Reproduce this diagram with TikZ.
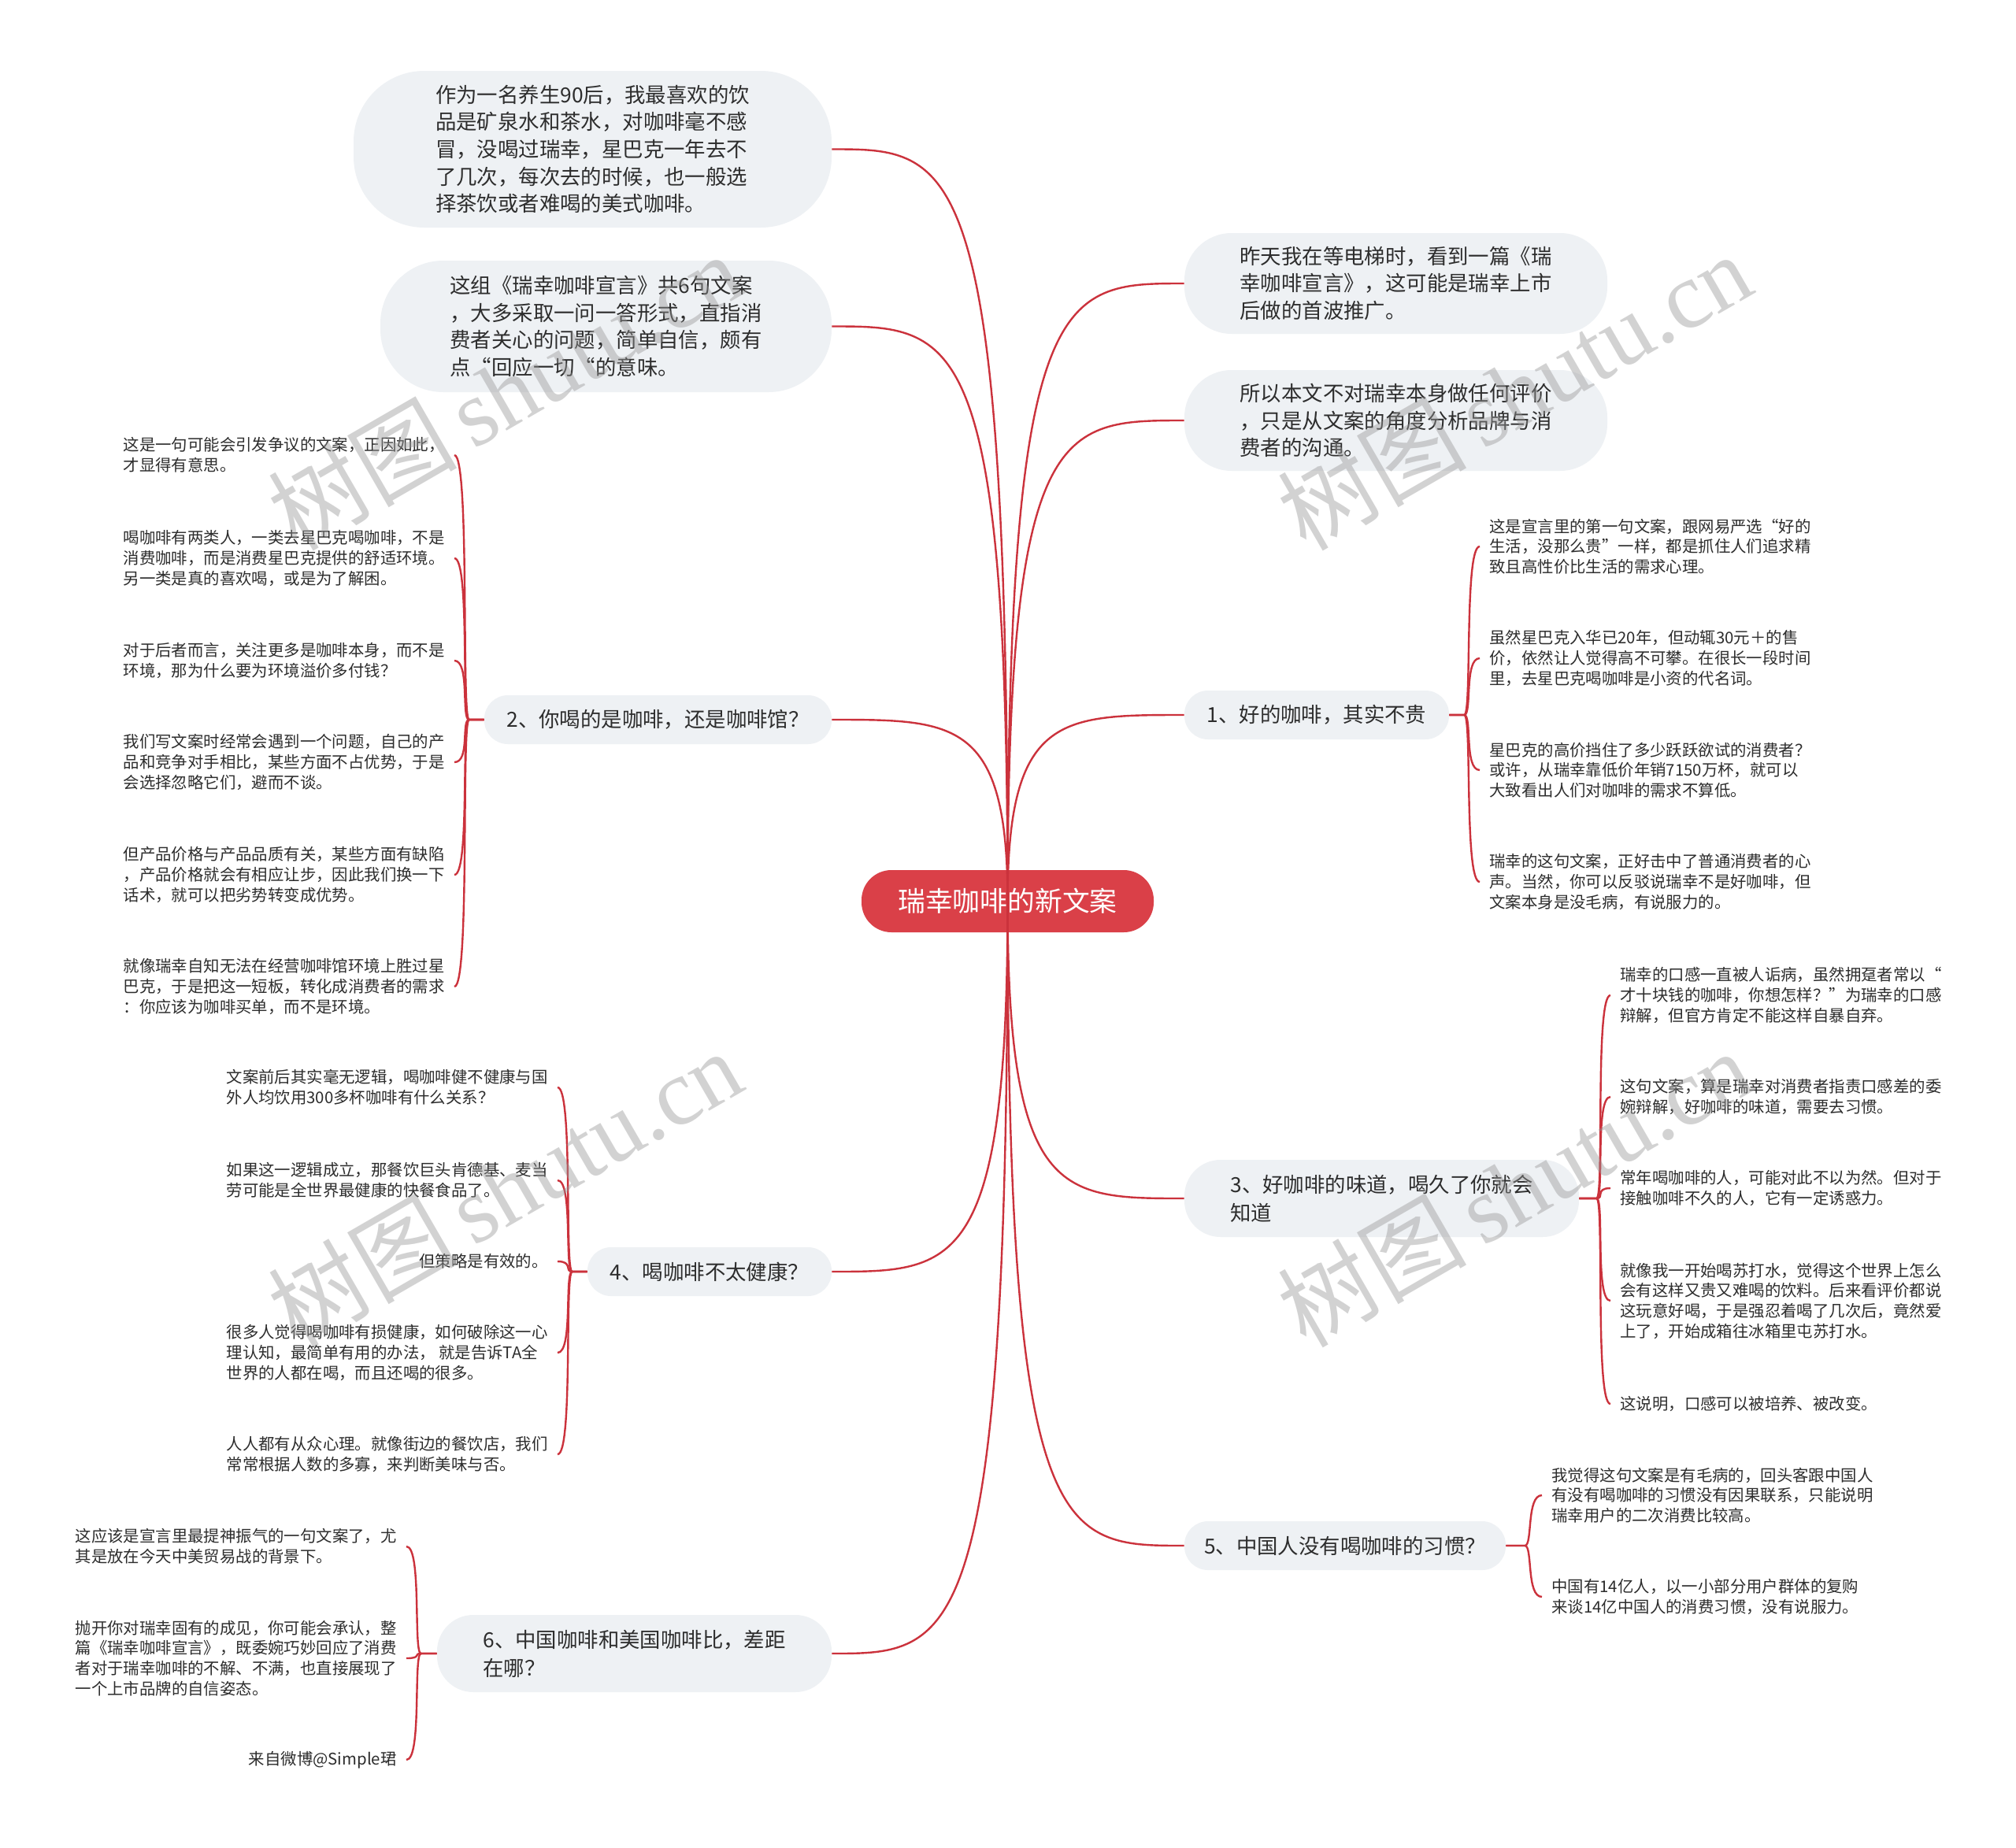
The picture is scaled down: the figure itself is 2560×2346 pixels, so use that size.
\documentclass[tikz,border=0pt]{standalone}
\usepackage{fontspec}
\setmainfont{Noto Sans CJK SC}
\newfontfamily\wmfont{Liberation Serif}
\usetikzlibrary{calc}
\definecolor{linered}{RGB}{203,50,60}
\definecolor{rootred}{RGB}{218,64,72}
\definecolor{bubblefill}{RGB}{238,241,244}
\definecolor{txt}{RGB}{45,45,45}
\definecolor{wmgray}{RGB}{150,150,150}
\begin{document}
\begin{tikzpicture}[x=0.5pt,y=-0.5pt,
  bubble/.style={fill=bubblefill, draw=none, align=left, text=txt, inner sep=0pt,
    font=\fontsize{13.2pt}{17.3pt}\selectfont},
  branch/.style={bubble, minimum height=31pt, rounded corners=15pt},
  branchtwo/.style={bubble, minimum height=49pt, rounded corners=23pt, font=\fontsize{13.2pt}{18pt}\selectfont},
  leaf/.style={align=left, text=txt, inner xsep=6pt, inner ysep=0pt,
    font=\fontsize{10.2pt}{12.85pt}\selectfont},
  rootbox/.style={fill=rootred, text=white, minimum width=185.5pt, minimum height=39.5pt,
    rounded corners=19pt, inner sep=0pt, font=\fontsize{17.4pt}{20pt}\selectfont},
  conn/.style={draw=linered, line width=1.2pt},
  rcurl/.style={out=0,in=180,out distance=5pt,in distance=10pt},
  lcurl/.style={out=180,in=0,out distance=5pt,in distance=10pt},
  wmark/.style={anchor=base west, rotate=30, text=wmgray, opacity=0.42, inner sep=0pt,
    font=\fontsize{60pt}{60pt}\selectfont}
]
\useasboundingbox (0,0) rectangle (2560,2346);
\fill[white] (0,0) rectangle (2560,2346);
\clip (0,0) rectangle (2560,2346);

% top bubbles
\node[bubble, minimum width=303.5pt, minimum height=99.5pt, rounded corners=45pt] (A) at (752.5,189.5)
 {作为一名养生90后，我最喜欢的饮\\品是矿泉水和茶水，对咖啡毫不感\\冒，没喝过瑞幸，星巴克一年去不\\了几次，每次去的时候，也一般选\\择茶饮或者难喝的美式咖啡。};
\node[bubble, minimum width=286.5pt, minimum height=83.5pt, rounded corners=40pt] (B) at (769.5,414.5)
 {这组《瑞幸咖啡宣言》共6句文案\\，大多采取一问一答形式，直指消\\费者关心的问题，简单自信，颇有\\点“回应一切“的意味。};
\node[bubble, minimum width=268.5pt, minimum height=64pt, rounded corners=30pt] (C) at (1772.5,360)
 {昨天我在等电梯时，看到一篇《瑞\\幸咖啡宣言》，这可能是瑞幸上市\\后做的首波推广。};
\node[bubble, minimum width=268.5pt, minimum height=64pt, rounded corners=30pt] (D) at (1772.5,534)
 {所以本文不对瑞幸本身做任何评价\\，只是从文案的角度分析品牌与消\\费者的沟通。};

% branches
\node[branch, minimum width=168pt] (b1) at (1672,908) {1、好的咖啡，其实不贵};
\node[branch, minimum width=220.5pt] (b2) at (835.5,914) {2、你喝的是咖啡，还是咖啡馆？};
\node[branchtwo, minimum width=250.5pt] (b3) at (1754.5,1522) {3、好咖啡的味道，喝久了你就会\\知道};
\node[branch, minimum width=155pt] (b4) at (901,1615) {4、喝咖啡不太健康？};
\node[branch, minimum width=204pt] (b5) at (1708,1963) {5、中国人没有喝咖啡的习惯？};
\node[branchtwo, minimum width=250.5pt] (b6) at (805.5,2100) {6、中国咖啡和美国咖啡比，差距\\在哪？};

% leaves of branch 1
\node[leaf, anchor=west] (l1a) at (1879,694) {这是宣言里的第一句文案，跟网易严选“好的\\生活，没那么贵”一样，都是抓住人们追求精\\致且高性价比生活的需求心理。};
\node[leaf, anchor=west] (l1b) at (1879,836) {虽然星巴克入华已20年，但动辄30元＋的售\\价，依然让人觉得高不可攀。在很长一段时间\\里，去星巴克喝咖啡是小资的代名词。};
\node[leaf, anchor=west] (l1c) at (1879,978) {星巴克的高价挡住了多少跃跃欲试的消费者？\\或许，从瑞幸靠低价年销7150万杯，就可以\\大致看出人们对咖啡的需求不算低。};
\node[leaf, anchor=west] (l1d) at (1879,1120) {瑞幸的这句文案，正好击中了普通消费者的心\\声。当然，你可以反驳说瑞幸不是好咖啡，但\\文案本身是没毛病，有说服力的。};

% leaves of branch 2
\node[leaf, anchor=east] (l2a) at (577,578) {这是一句可能会引发争议的文案，正因如此，\\才显得有意思。};
\node[leaf, anchor=east] (l2b) at (577,709) {喝咖啡有两类人，一类去星巴克喝咖啡，不是\\消费咖啡，而是消费星巴克提供的舒适环境。\\另一类是真的喜欢喝，或是为了解困。};
\node[leaf, anchor=east] (l2c) at (577,839) {对于后者而言，关注更多是咖啡本身，而不是\\环境，那为什么要为环境溢价多付钱？};
\node[leaf, anchor=east] (l2d) at (577,968) {我们写文案时经常会遇到一个问题，自己的产\\品和竞争对手相比，某些方面不占优势，于是\\会选择忽略它们，避而不谈。};
\node[leaf, anchor=east] (l2e) at (577,1111) {但产品价格与产品品质有关，某些方面有缺陷\\，产品价格就会有相应让步，因此我们换一下\\话术，就可以把劣势转变成优势。};
\node[leaf, anchor=east] (l2f) at (577,1253) {就像瑞幸自知无法在经营咖啡馆环境上胜过星\\巴克，于是把这一短板，转化成消费者的需求\\：你应该为咖啡买单，而不是环境。};

% leaves of branch 3
\node[leaf, anchor=west] (l3a) at (2045,1264) {瑞幸的口感一直被人诟病，虽然拥趸者常以“\\才十块钱的咖啡，你想怎样？”为瑞幸的口感\\辩解，但官方肯定不能这样自暴自弃。};
\node[leaf, anchor=west] (l3b) at (2045,1393) {这句文案，算是瑞幸对消费者指责口感差的委\\婉辩解，好咖啡的味道，需要去习惯。};
\node[leaf, anchor=west] (l3c) at (2045,1509) {常年喝咖啡的人，可能对此不以为然。但对于\\接触咖啡不久的人，它有一定诱惑力。};
\node[leaf, anchor=west] (l3d) at (2045,1652) {就像我一开始喝苏打水，觉得这个世界上怎么\\会有这样又贵又难喝的饮料。后来看评价都说\\这玩意好喝，于是强忍着喝了几次后，竟然爱\\上了，开始成箱往冰箱里屯苏打水。};
\node[leaf, anchor=west] (l3e) at (2045,1783) {这说明，口感可以被培养、被改变。};

% leaves of branch 4
\node[leaf, anchor=east] (l4a) at (708,1381) {文案前后其实毫无逻辑，喝咖啡健不健康与国\\外人均饮用300多杯咖啡有什么关系？};
\node[leaf, anchor=east] (l4b) at (708,1499) {如果这一逻辑成立，那餐饮巨头肯德基、麦当\\劳可能是全世界最健康的快餐食品了。};
\node[leaf, anchor=east] (l4c) at (708,1602) {但策略是有效的。};
\node[leaf, anchor=east] (l4d) at (708,1718) {很多人觉得喝咖啡有损健康，如何破除这一心\\理认知，最简单有用的办法， 就是告诉TA全\\世界的人都在喝，而且还喝的很多。};
\node[leaf, anchor=east] (l4e) at (708,1847) {人人都有从众心理。就像街边的餐饮店，我们\\常常根据人数的多寡，来判断美味与否。};

% leaves of branch 5
\node[leaf, anchor=west] (l5a) at (1958,1899) {我觉得这句文案是有毛病的，回头客跟中国人\\有没有喝咖啡的习惯没有因果联系，只能说明\\瑞幸用户的二次消费比较高。};
\node[leaf, anchor=west] (l5b) at (1958,2028) {中国有14亿人，以一小部分用户群体的复购\\来谈14亿中国人的消费习惯，没有说服力。};

% leaves of branch 6
\node[leaf, anchor=east] (l6a) at (516,1964) {这应该是宣言里最提神振气的一句文案了，尤\\其是放在今天中美贸易战的背景下。};
\node[leaf, anchor=east] (l6b) at (516,2106) {抛开你对瑞幸固有的成见，你可能会承认，整\\篇《瑞幸咖啡宣言》，既委婉巧妙回应了消费\\者对于瑞幸咖啡的不解、不满，也直接展现了\\一个上市品牌的自信姿态。};
\node[leaf, anchor=east] (l6c) at (516,2235) {来自微博@Simple珺};

% root
\node[rootbox] (root) at (1279.5,1144.5) {瑞幸咖啡的新文案};

% bracket points
\coordinate (k1) at ($(b1.east)+(19,0)$);
\coordinate (k2) at ($(b2.west)+(-19,0)$);
\coordinate (k3) at ($(b3.east)+(22,0)$);
\coordinate (k4) at ($(b4.west)+(-19,0)$);
\coordinate (k5) at ($(b5.east)+(24,0)$);
\coordinate (k6) at ($(b6.west)+(-20,0)$);

% child connectors
\foreach \c in {l1a,l1b,l1c,l1d} \draw[conn] (b1.east) -- (k1) to[rcurl] (\c.west);
\foreach \c in {l3a,l3b,l3c,l3d,l3e} \draw[conn] (b3.east) -- (k3) to[rcurl] (\c.west);
\foreach \c in {l5a,l5b} \draw[conn] (b5.east) -- (k5) to[rcurl] (\c.west);
\foreach \c in {l2a,l2b,l2c,l2d,l2e,l2f} \draw[conn] (b2.west) -- (k2) to[lcurl] (\c.east);
\foreach \c in {l4a,l4b,l4c,l4d,l4e} \draw[conn] (b4.west) -- (k4) to[lcurl] (\c.east);
\foreach \c in {l6a,l6b,l6c} \draw[conn] (b6.west) -- (k6) to[lcurl] (\c.east);

% root connectors
\foreach \n in {A,B,b2,b4,b6}
  \draw[conn] (root.center) .. controls (root.center |- \n.east) and ($(\n.east)!0.7!(root.center |- \n.east)$) .. (\n.east);
\foreach \n in {C,D,b1,b3,b5}
  \draw[conn] (root.center) .. controls (root.center |- \n.west) and ($(\n.west)!0.7!(root.center |- \n.west)$) .. (\n.west);

% watermarks
\foreach \wx/\wy in {376/702,1658/702,376/1714,1658/1714,376/2726,1658/2726}
  \node[wmark] (wm-\wx-\wy) at (\wx,\wy) {树图\,{\wmfont shutu.cn}};
\end{tikzpicture}
\end{document}
